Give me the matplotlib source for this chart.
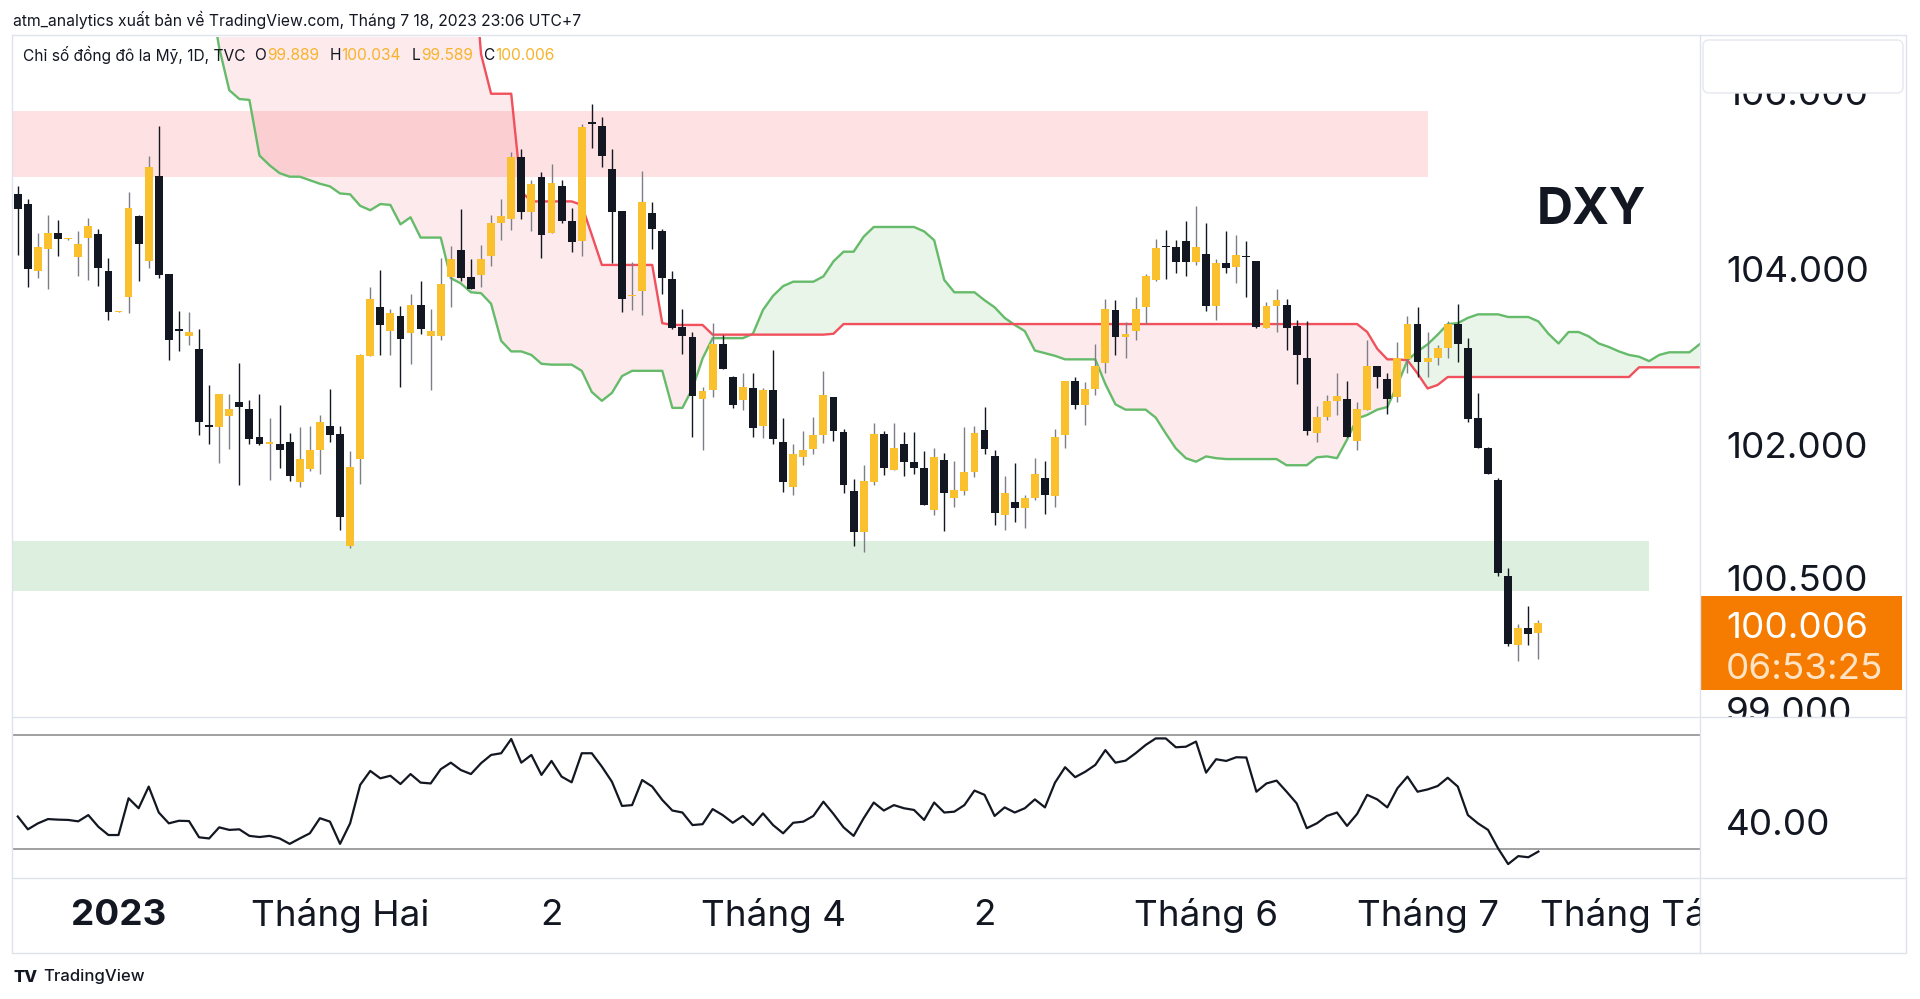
import matplotlib
matplotlib.use("Agg")
import matplotlib.pyplot as plt
import matplotlib.transforms as mtransforms
from matplotlib.patches import Rectangle, FancyBboxPatch
import numpy as np

plt.rcParams['font.family'] = ['Inter', 'DejaVu Sans']

# ---------------- data (daily DXY candles, bar 0 = 19 Dec 2022) ----------------
opens = [104.86, 104.75, 103.99, 104.24, 104.42, 104.35, 104.15, 104.36, 104.41, 103.99,
         103.53, 103.70, 104.61, 104.11, 105.07, 103.96, 103.33, 103.26, 103.11, 102.25,
         102.22, 102.35, 102.51, 102.43, 102.11, 102.03, 102.03, 102.05, 101.60, 101.75,
         101.96, 102.24, 102.14, 100.87, 101.86, 103.03, 103.58, 103.31, 103.48, 103.29,
         103.61, 103.26, 103.25, 103.92, 104.23, 103.92, 103.95, 104.16, 104.53, 104.58,
         105.28, 104.66, 105.06, 104.42, 104.96, 104.56, 104.33, 105.68, 105.63, 105.15,
         104.67, 103.71, 103.77, 104.65, 104.44, 103.90, 103.36, 103.24, 102.54, 102.64,
         103.16, 102.79, 102.53, 102.66, 102.24, 102.64, 102.05, 101.54, 101.88, 101.97,
         102.13, 102.56, 102.17, 101.50, 101.03, 101.60, 102.14, 101.74, 102.03, 101.83,
         101.76, 101.28, 101.85, 101.42, 101.50, 101.71, 102.19, 101.90, 101.23, 101.37,
         101.31, 101.42, 101.65, 101.44, 102.13, 102.74, 102.47, 102.65, 102.95, 103.55,
         103.24, 103.31, 103.58, 103.89, 104.27, 104.26, 104.33, 104.09, 104.18, 103.60,
         104.08, 104.04, 104.16, 104.10, 103.34, 103.59, 103.61, 103.37, 103.00, 102.16,
         102.34, 102.52, 102.54, 102.07, 102.42, 102.91, 102.77, 102.56, 102.99, 103.39,
         102.96, 103.01, 103.12, 103.39, 103.12, 102.32, 101.98, 101.62, 100.53, 99.75,
         99.95, 99.889]
highs = [104.96, 104.81, 104.42, 104.63, 104.57, 104.37, 104.44, 104.59, 104.47, 104.14,
         103.54, 104.89, 104.63, 105.29, 105.64, 103.96, 103.54, 103.53, 103.33, 102.70,
         102.60, 102.60, 102.95, 102.53, 102.60, 102.32, 102.47, 102.15, 102.22, 102.23,
         102.36, 102.65, 102.23, 101.95, 103.05, 103.81, 104.00, 103.56, 103.59, 103.73,
         103.88, 103.56, 104.14, 104.27, 104.69, 104.13, 104.29, 104.63, 104.81, 105.34,
         105.37, 105.02, 105.11, 105.20, 105.02, 104.71, 105.66, 105.88, 105.74, 105.37,
         104.67, 104.09, 105.12, 104.77, 104.47, 103.99, 103.56, 103.30, 102.68, 103.40,
         103.27, 102.80, 102.83, 102.83, 102.67, 103.10, 102.32, 102.03, 102.18, 102.34,
         102.86, 102.56, 102.20, 101.63, 101.79, 102.27, 102.18, 102.27, 102.17, 102.17,
         101.95, 101.99, 101.93, 101.84, 102.22, 102.23, 102.45, 101.96, 101.67, 101.81,
         101.45, 101.87, 101.84, 102.20, 102.75, 102.79, 102.73, 103.16, 103.67, 103.66,
         103.41, 103.70, 103.96, 104.35, 104.46, 104.34, 104.56, 104.73, 104.53, 104.13,
         104.44, 104.40, 104.33, 104.11, 103.64, 103.79, 103.67, 103.44, 103.42, 102.46,
         102.59, 102.83, 102.74, 102.51, 103.21, 102.91, 102.84, 103.19, 103.48, 103.58,
         103.30, 103.15, 103.43, 103.62, 103.23, 102.61, 102.00, 101.64, 100.62, 99.99,
         100.20, 100.034]
lows = [104.17, 103.81, 103.91, 103.79, 104.16, 104.34, 103.93, 103.89, 103.82, 103.44,
        103.53, 103.51, 103.88, 104.02, 103.91, 102.98, 103.08, 103.15, 102.13, 102.03,
        101.81, 101.97, 101.57, 102.03, 102.02, 101.62, 101.76, 101.61, 101.54, 101.72,
        101.69, 102.05, 101.06, 100.85, 101.58, 103.03, 103.04, 103.04, 102.68, 102.94,
        103.28, 102.64, 103.21, 103.58, 103.88, 103.79, 103.81, 104.05, 104.34, 104.46,
        104.58, 104.45, 104.14, 104.42, 104.53, 104.21, 104.16, 105.39, 105.17, 104.08,
        103.53, 103.55, 103.49, 104.24, 103.73, 103.33, 103.05, 102.11, 101.96, 102.56,
        102.88, 102.44, 102.42, 102.11, 102.10, 102.03, 101.49, 101.45, 101.79, 101.92,
        102.04, 102.06, 101.48, 100.87, 100.81, 101.57, 101.68, 101.74, 101.67, 101.69,
        101.34, 101.23, 101.04, 101.32, 101.45, 101.66, 101.92, 101.11, 101.06, 101.15,
        101.08, 101.40, 101.24, 101.32, 101.98, 102.43, 102.25, 102.59, 102.84, 103.04,
        103.01, 103.21, 103.39, 103.88, 103.90, 103.97, 103.93, 104.06, 103.54, 103.44,
        103.97, 103.86, 103.70, 103.35, 103.34, 103.30, 103.10, 102.71, 102.13, 102.05,
        102.30, 102.36, 102.11, 101.96, 102.42, 102.66, 102.37, 102.51, 102.83, 102.79,
        102.79, 102.93, 103.01, 102.96, 102.28, 101.99, 101.69, 100.53, 99.74, 99.57,
        99.75, 99.589]
closes = [104.69, 104.01, 104.26, 104.42, 104.35, 104.36, 104.30, 104.50, 104.02, 103.53,
          103.54, 104.71, 104.30, 105.17, 103.95, 103.21, 103.31, 103.30, 102.28, 102.22,
          102.60, 102.43, 102.45, 102.09, 102.03, 102.05, 101.96, 101.67, 101.86, 101.96,
          102.28, 102.13, 101.20, 101.77, 103.04, 103.67, 103.38, 103.51, 103.22, 103.61,
          103.33, 103.31, 103.84, 104.13, 103.91, 103.79, 104.13, 104.53, 104.62, 105.28,
          104.66, 104.98, 104.40, 104.99, 104.56, 104.32, 105.62, 105.66, 105.29, 104.66,
          103.67, 103.72, 104.77, 104.47, 103.91, 103.34, 103.25, 102.57, 102.63, 103.16,
          102.88, 102.47, 102.68, 102.21, 102.64, 102.09, 101.60, 101.92, 101.96, 102.13,
          102.59, 102.18, 101.57, 101.03, 101.61, 102.14, 101.76, 101.98, 101.83, 101.76,
          101.34, 101.88, 101.48, 101.51, 101.71, 102.16, 101.97, 101.25, 101.48, 101.31,
          101.42, 101.69, 101.45, 102.11, 102.74, 102.47, 102.65, 102.91, 103.56, 103.24,
          103.28, 103.56, 103.93, 104.25, 104.26, 104.09, 104.09, 104.26, 103.60, 104.08,
          104.03, 104.17, 104.15, 103.36, 103.59, 103.66, 103.35, 103.04, 102.18, 102.34,
          102.52, 102.58, 102.11, 102.43, 102.91, 102.79, 102.54, 103.01, 103.39, 102.96,
          103.01, 103.12, 103.39, 103.16, 102.31, 101.99, 101.69, 100.57, 99.76, 99.95,
          99.88, 100.006]
rsi = [41.4, 36.9, 39.0, 40.5, 40.3, 40.2, 39.7, 41.9, 37.8, 34.9,
       34.9, 47.8, 44.3, 51.9, 42.8, 39.0, 39.9, 39.8, 34.1, 33.7,
       37.6, 36.7, 36.9, 34.6, 34.2, 34.6, 33.7, 31.8, 33.7, 35.5,
       40.8, 39.6, 31.8, 39.0, 52.5, 57.4, 54.8, 55.7, 52.8, 56.3,
       53.3, 53.0, 58.0, 60.3, 57.7, 56.3, 60.1, 63.0, 63.6, 68.6,
       60.3, 63.0, 56.0, 60.9, 55.4, 53.4, 63.6, 63.6, 58.9, 53.6,
       45.1, 45.4, 54.2, 51.9, 47.2, 43.5, 42.8, 38.4, 38.7, 44.0,
       41.9, 39.2, 41.6, 38.4, 42.5, 38.4, 35.5, 39.2, 39.6, 41.6,
       46.6, 42.3, 37.6, 34.6, 40.8, 46.3, 43.5, 45.4, 44.3, 43.7,
       40.2, 46.3, 42.8, 43.1, 45.4, 50.5, 49.0, 41.6, 44.6, 42.8,
       44.3, 47.4, 44.6, 53.3, 58.7, 55.2, 57.1, 59.5, 64.7, 60.3,
       61.0, 63.6, 66.5, 68.8, 68.8, 65.7, 65.9, 67.7, 56.8, 61.5,
       60.9, 62.2, 62.1, 50.1, 53.0, 54.0, 50.1, 46.0, 37.3, 39.0,
       41.6, 42.8, 38.1, 42.3, 49.0, 47.4, 44.6, 51.3, 55.4, 50.1,
       50.9, 52.1, 55.0, 51.9, 41.9, 39.0, 36.7, 30.2, 24.7, 27.5,
       27.1, 29.1]
# Ichimoku leading spans (shifted 26 bars ahead), values above ~106.6 lie off-chart
span_a = [107.6, 107.6, 107.6, 107.6, 107.6, 107.6, 107.6, 107.6, 107.6, 107.6,
          107.6, 107.6, 107.6, 107.6, 107.6, 107.6, 107.6, 107.6, 107.6, 107.2,
          106.52, 106.04, 105.94, 105.93, 105.30, 105.19, 105.10, 105.06, 105.06, 105.02,
          104.98, 104.95, 104.87, 104.86, 104.73, 104.68, 104.75, 104.74, 104.52, 104.60,
          104.37, 104.37, 104.37, 103.91, 103.85, 103.75, 103.74, 103.62, 103.20, 103.08,
          103.08, 103.04, 102.94, 102.93, 102.93, 102.93, 102.86, 102.62, 102.52, 102.61,
          102.80, 102.86, 102.86, 102.86, 102.86, 102.44, 102.44, 102.66, 103.00, 103.23,
          103.23, 103.23, 103.23, 103.28, 103.55, 103.71, 103.82, 103.87, 103.87, 103.87,
          103.93, 104.10, 104.21, 104.21, 104.38, 104.49, 104.49, 104.49, 104.49, 104.49,
          104.44, 104.34, 103.89, 103.75, 103.75, 103.75, 103.66, 103.58, 103.46, 103.38,
          103.31, 103.09, 103.06, 103.03, 102.99, 102.99, 102.99, 102.99, 102.71, 102.48,
          102.42, 102.42, 102.42, 102.33, 102.15, 101.98, 101.87, 101.83, 101.89, 101.87,
          101.86, 101.86, 101.86, 101.86, 101.86, 101.86, 101.79, 101.79, 101.79, 101.88,
          101.89, 101.87, 102.08, 102.32, 102.36, 102.42, 102.45, 102.70, 102.98, 103.08,
          103.16, 103.27, 103.39, 103.40, 103.46, 103.50, 103.50, 103.50, 103.47, 103.47,
          103.47, 103.42, 103.28, 103.17, 103.30, 103.30, 103.25, 103.17, 103.13, 103.08,
          103.04, 103.02, 102.97, 103.04, 103.07, 103.07, 103.07, 103.16]
span_b = [107.9, 107.9, 107.9, 107.9, 107.9, 107.9, 107.9, 107.9, 107.9, 107.9,
          107.9, 107.9, 107.9, 107.9, 107.9, 107.9, 107.9, 107.9, 107.9, 107.9,
          107.9, 107.9, 107.9, 107.9, 107.9, 107.9, 107.9, 107.9, 107.9, 107.9,
          107.9, 107.9, 107.9, 107.9, 107.9, 107.9, 107.9, 107.9, 107.9, 107.9,
          107.9, 107.9, 107.9, 107.9, 107.9, 107.9, 106.45, 106.00, 106.00, 106.00,
          104.89, 104.78, 104.78, 104.78, 104.78, 104.78, 104.74, 104.40, 104.06, 104.06,
          104.06, 104.06, 104.06, 104.06, 103.40, 103.38, 103.38, 103.38, 103.38, 103.27,
          103.27, 103.27, 103.27, 103.27, 103.27, 103.27, 103.27, 103.27, 103.27, 103.27,
          103.27, 103.28, 103.39, 103.39, 103.39, 103.39, 103.39, 103.39, 103.39, 103.39,
          103.39, 103.39, 103.39, 103.39, 103.39, 103.39, 103.39, 103.39, 103.39, 103.39,
          103.39, 103.39, 103.39, 103.39, 103.39, 103.39, 103.39, 103.39, 103.39, 103.39,
          103.39, 103.39, 103.39, 103.39, 103.39, 103.39, 103.39, 103.39, 103.39, 103.39,
          103.39, 103.39, 103.39, 103.39, 103.39, 103.39, 103.39, 103.39, 103.39, 103.39,
          103.39, 103.39, 103.39, 103.39, 103.30, 103.11, 102.99, 102.99, 102.98, 102.83,
          102.66, 102.70, 102.79, 102.79, 102.79, 102.79, 102.79, 102.79, 102.79, 102.79,
          102.79, 102.79, 102.79, 102.79, 102.79, 102.79, 102.79, 102.79, 102.79, 102.79,
          102.79, 102.90, 102.90, 102.90, 102.90, 102.90, 102.90, 102.90]
price_ticks = [106.0, 104.0, 102.0, 100.5, 99.0]
rsi_ticks = [40.0]
rsi_bands = [70.0, 30.0]
time_tick_bars = [10, 32, 53, 75, 96, 118, 140, 161]
time_tick_labels = ['2023', 'Tháng Hai', '2', 'Tháng 4', '2', 'Tháng 6', 'Tháng 7', 'Tháng Tám']
supply_zone = [105.06, 105.80]
supply_zone_end = 140
demand_zone = [100.37, 100.93]
demand_zone_end = 162
countdown = '06:53:25'
header = 'atm_analytics xuất bản về TradingView.com, Tháng 7 18, 2023 23:06 UTC+7'
symbol_title = 'Chỉ số đồng đô la Mỹ, 1D, TVC'

# ---------------- layout ----------------
W, H = 1920, 999
fig = plt.figure(figsize=(W / 100, H / 100), dpi=100)
fig.patch.set_facecolor('white')
L, R, AR = 12, 1700, 1906
T, MB, RB, TB = 37, 717, 878, 953


def rect(x0, y0, x1, y1):
    return [x0 / W, 1 - y1 / H, (x1 - x0) / W, (y1 - y0) / H]


ax = fig.add_axes(rect(L, T, R, MB))
rax = fig.add_axes(rect(L, MB, R, RB), sharex=ax)
tax = fig.add_axes(rect(L, RB, R, TB), sharex=ax)
pax = fig.add_axes(rect(R, T, AR, MB), sharey=ax)
prax = fig.add_axes(rect(R, MB, AR, RB), sharey=rax)
for a in (ax, rax, tax, pax, prax):
    a.set_axis_off()

ax.set_xlim(-0.576, 167.05)
ax.set_ylim(98.937, 106.643)
rax.set_ylim(19.82, 76.32)
tax.set_ylim(0, 1)
pax.set_xlim(0, AR - R)
prax.set_xlim(0, AR - R)

DARK = '#131722'
UP = '#fbc02d'


def shifted(axis, dy_px):
    """data transform shifted down by dy_px pixels"""
    return mtransforms.offset_copy(axis.transData, fig=fig, x=0, y=-dy_px, units='dots')


# zones
ax.fill_between([-5, supply_zone_end], supply_zone[0], supply_zone[1],
                color=(242 / 255, 54 / 255, 69 / 255, 0.15), lw=0, zorder=0.5)
ax.fill_between([-5, demand_zone_end], demand_zone[0], demand_zone[1],
                color=(76 / 255, 175 / 255, 80 / 255, 0.19), lw=0, zorder=0.5)

# cloud
sa = np.array(span_a)
sb = np.array(span_b)
ci = np.arange(len(sa))
ax.fill_between(ci, sa, sb, where=sa >= sb, interpolate=True,
                color=(76 / 255, 175 / 255, 80 / 255, 0.12), lw=0, zorder=1)
ax.fill_between(ci, sa, sb, where=sa < sb, interpolate=True,
                color=(242 / 255, 54 / 255, 69 / 255, 0.10), lw=0, zorder=1)
ax.plot(ci, sa, color='#66bb6a', lw=1.7, zorder=2, solid_joinstyle='round')
ax.plot(ci, sb, color='#f0515c', lw=1.7, zorder=2, solid_joinstyle='round')

# candles
o = np.array(opens); h = np.array(highs); lo = np.array(lows); c = np.array(closes)
idx = np.arange(len(o))
up = c >= o
body_col = np.where(up, UP, DARK)
wick_col = np.where(up, '#7d7f86', DARK)
ax.vlines(idx, lo, h, colors=wick_col, linewidth=1.0, zorder=3)
ax.bar(idx, np.maximum(np.abs(c - o), 0.013), bottom=np.minimum(o, c), width=0.78,
       color=body_col, linewidth=0, zorder=4)

# RSI
rax.plot(idx, rsi, color=DARK, lw=1.6, zorder=3)
for b in rsi_bands:
    rax.axhline(b, color='#909090', lw=1.2, zorder=2)

# price axis labels
LBL = 26.5
for p in price_ticks:
    pax.text(26, p, f'{p:.3f}', ha='left', va='center', fontsize=LBL, color=DARK, clip_on=True,
             transform=shifted(pax, 2))
for r in rsi_ticks:
    prax.text(26, r, f'{r:.2f}', ha='left', va='center', fontsize=LBL, color=DARK, clip_on=True,
              transform=shifted(prax, 5))

# last price box
ylo, yhi = ax.get_ylim()
ppu = (MB - T) / (yhi - ylo)
last = closes[-1]
pax.add_patch(Rectangle((0, last - 67 / ppu), 202, 94 / ppu, facecolor='#f57c00',
                        edgecolor='none', zorder=3, clip_on=False))
pax.text(26, last, f'{last:.3f}', ha='left', va='center', fontsize=LBL, color='white', zorder=4,
         transform=shifted(pax, 6))
pax.text(26, last, countdown, ha='left', va='center', fontsize=LBL,
         color='#ffe3c4', zorder=4, transform=shifted(pax, 47))

# time axis
ttr = mtransforms.blended_transform_factory(tax.transData, tax.transAxes)
for b, lab in zip(time_tick_bars, time_tick_labels):
    tax.text(b, 0.495, lab, transform=ttr, ha='center', va='center', fontsize=LBL,
             color=DARK, fontweight='bold' if lab == '2023' else 'normal', clip_on=True)

# overlay: frame, header, legend
ov = fig.add_axes([0, 0, 1, 1], zorder=10)
ov.set_xlim(0, W)
ov.set_ylim(H, 0)
ov.set_axis_off()
bc = '#e0e3eb'
ov.plot([L, AR, AR, L, L], [35, 35, TB, TB, 35], color=bc, lw=1)
ov.plot([R, R], [35, TB], color=bc, lw=1)
ov.plot([L, AR], [MB, MB], color=bc, lw=1)
ov.plot([L, AR], [RB, RB], color=bc, lw=1)
ov.add_patch(FancyBboxPatch((1703, 40), 200, 53, boxstyle='round,pad=0,rounding_size=6',
                            fc='white', ec='#e6e8ee', lw=1))

ov.text(13, 20, header, fontsize=11.3, color=DARK, ha='left', va='center')

# legend laid out piece by piece
fig.canvas.draw()
renderer = fig.canvas.get_renderer()
LEG = 11.2
xcur = 23
t = ov.text(xcur, 55, symbol_title, fontsize=LEG, color=DARK, ha='left', va='center')
xcur = t.get_window_extent(renderer).x1 + 9
for key, val in [('O', opens[-1]), ('H', highs[-1]), ('L', lows[-1]), ('C', closes[-1])]:
    t = ov.text(xcur, 55, key, fontsize=LEG, color=DARK, ha='left', va='center')
    xcur = t.get_window_extent(renderer).x1 + 1
    t = ov.text(xcur, 55, f'{val:.3f}', fontsize=LEG, color='#f7b32b', ha='left', va='center')
    xcur = t.get_window_extent(renderer).x1 + 10

ov.text(1591, 211, 'DXY', fontsize=36, fontweight='bold', color=DARK, ha='center', va='center')

ov.text(13, 977, 'TV', fontsize=12, fontweight='heavy', color=DARK, ha='left', va='center')
ov.text(43, 977, 'TradingView', fontsize=12, fontweight='medium', color=DARK, ha='left', va='center')

fig.savefig('out.png', dpi=100, facecolor='white')
